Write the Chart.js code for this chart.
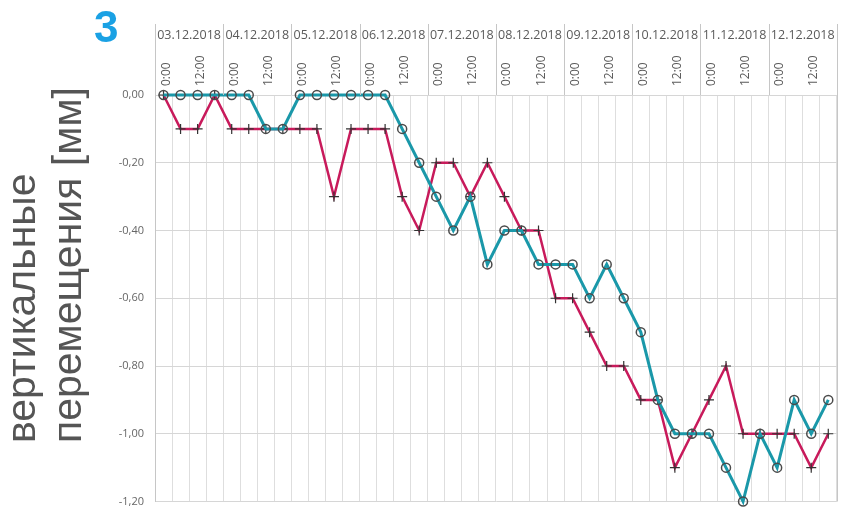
<!DOCTYPE html>
<html>
<head>
<meta charset="utf-8">
<script src="https://cdn.jsdelivr.net/npm/chart.js@4/dist/chart.umd.min.js"></script>
<style>
  html, body { margin: 0; padding: 0; background: #fff; }
  #wrap { width: 843px; height: 518px; }
</style>
</head>
<body>
<div id="wrap"><canvas id="chart" width="843" height="518"></canvas></div>
<script>
// days along the top, four readings per day
const days = ['03.12.2018', '04.12.2018', '05.12.2018', '06.12.2018', '07.12.2018',
              '08.12.2018', '09.12.2018', '10.12.2018', '11.12.2018', '12.12.2018'];
const hours = ['0:00', '6:00', '12:00', '18:00'];
const shownHours = ['0:00', '12:00'];

// y ticks, mm
const yTickValues = [0, -0.2, -0.4, -0.6, -0.8, -1.0, -1.2];

// measured settlements, mm
const tealValues = [0, 0, 0, 0, 0, 0, -0.1, -0.1, 0, 0, 0, 0, 0, 0,
                    -0.1, -0.2, -0.3, -0.4, -0.3, -0.5, -0.4, -0.4, -0.5, -0.5,
                    -0.5, -0.6, -0.5, -0.6, -0.7, -0.9, -1.0, -1.0, -1.0, -1.1,
                    -1.2, -1.0, -1.1, -0.9, -1.0, -0.9];
const crimsonValues = [0, -0.1, -0.1, 0, -0.1, -0.1, -0.1, -0.1, -0.1, -0.1,
                       -0.3, -0.1, -0.1, -0.1, -0.3, -0.4, -0.2, -0.2, -0.3, -0.2,
                       -0.3, -0.4, -0.4, -0.6, -0.6, -0.7, -0.8, -0.8, -0.9, -0.9,
                       -1.1, -1.0, -0.9, -0.8, -1.0, -1.0, -1.0, -1.0, -1.1, -1.0];

const axisTitle = ['вертикальные', 'перемещения [мм]'];
const panelNumber = '3';

const labels = days.flatMap(d => hours.map(h => d + ' ' + h));

const textGray = '#5a5a5a';

// header separators, panel number and the rotated y title
const decor = {
  id: 'decor',
  afterDraw(chart) {
    const { ctx, chartArea, scales } = chart;
    const x = scales.x;
    const headerTop = 24;

    ctx.save();
    ctx.strokeStyle = '#c6c6c6';
    ctx.lineWidth = 1;
    for (let d = 0; d <= days.length; d++) {
      const px = Math.round(x.getPixelForValue(d * hours.length - 0.5)) + 0.5;
      const edge = d === 0 || d === days.length;
      ctx.beginPath();
      ctx.moveTo(px, headerTop);
      ctx.lineTo(px, edge ? chartArea.bottom : chartArea.top);
      ctx.stroke();
    }

    ctx.fillStyle = '#1aa1e4';
    ctx.font = 'bold 44px "Liberation Sans", Arial, sans-serif';
    ctx.textAlign = 'left';
    ctx.textBaseline = 'alphabetic';
    ctx.fillText(panelNumber, 94, 42);

    ctx.fillStyle = '#555';
    ctx.font = '41px "Liberation Sans", Arial, sans-serif';
    ctx.translate(0, 443);
    ctx.rotate(-Math.PI / 2);
    ctx.fillText(axisTitle[0], 0, 35);
    ctx.fillText(axisTitle[1], 0, 81);
    ctx.restore();
  }
};

new Chart(document.getElementById('chart'), {
  type: 'line',
  data: {
    labels: labels,
    datasets: [
      {
        data: tealValues,
        borderColor: '#1a98a9',
        borderWidth: 3,
        pointStyle: 'circle',
        pointRadius: 4.5,
        pointBorderWidth: 1.5,
        pointBorderColor: '#4a4a4a',
        pointBackgroundColor: 'rgba(0,0,0,0)',
        tension: 0,
        clip: false
      },
      {
        data: crimsonValues,
        borderColor: '#c81a5b',
        borderWidth: 2.5,
        pointStyle: 'cross',
        pointRadius: 5,
        pointBorderWidth: 1.2,
        pointBorderColor: '#333',
        tension: 0,
        clip: false
      }
    ]
  },
  options: {
    responsive: false,
    animation: false,
    layout: { padding: { top: 20, right: 2, left: 0, bottom: 0 } },
    plugins: { legend: { display: false }, tooltip: { enabled: false } },
    scales: {
      x: {
        type: 'category',
        position: 'top',
        weight: 0,
        offset: true,
        grid: { offset: true, color: '#dedede', drawTicks: false },
        border: { display: false },
        ticks: {
          autoSkip: false,
          minRotation: 90,
          maxRotation: 90,
          padding: 9,
          labelOffset: 17,
          font: { family: 'Open Sans', size: 12 },
          color: textGray,
          callback(value) {
            const h = this.getLabelForValue(value).split(' ')[1];
            return shownHours.includes(h) ? h : '';
          }
        },
        afterFit(scale) { scale.height = 47; }
      },
      dates: {
        type: 'category',
        position: 'top',
        weight: 1,
        labels: days,
        offset: true,
        grid: { display: false, drawTicks: false },
        border: { display: false },
        ticks: {
          autoSkip: false,
          maxRotation: 0,
          padding: 5,
          font: { family: 'Open Sans', size: 12.5 },
          color: textGray
        },
        afterFit(scale) { scale.height = 28; }
      },
      y: {
        min: -1.2,
        max: 0,
        grid: { color: '#d6d6d6', drawTicks: false },
        border: { display: true, color: '#c6c6c6' },
        afterBuildTicks(scale) { scale.ticks = yTickValues.map(v => ({ value: v })); },
        ticks: {
          padding: 11,
          font: { family: 'Open Sans', size: 11, lineHeight: 1 },
          color: '#666',
          callback: v => v.toFixed(2).replace('.', ',')
        },
        afterFit(scale) { scale.width = 155; }
      }
    }
  },
  plugins: [decor]
});
</script>
</body>
</html>
